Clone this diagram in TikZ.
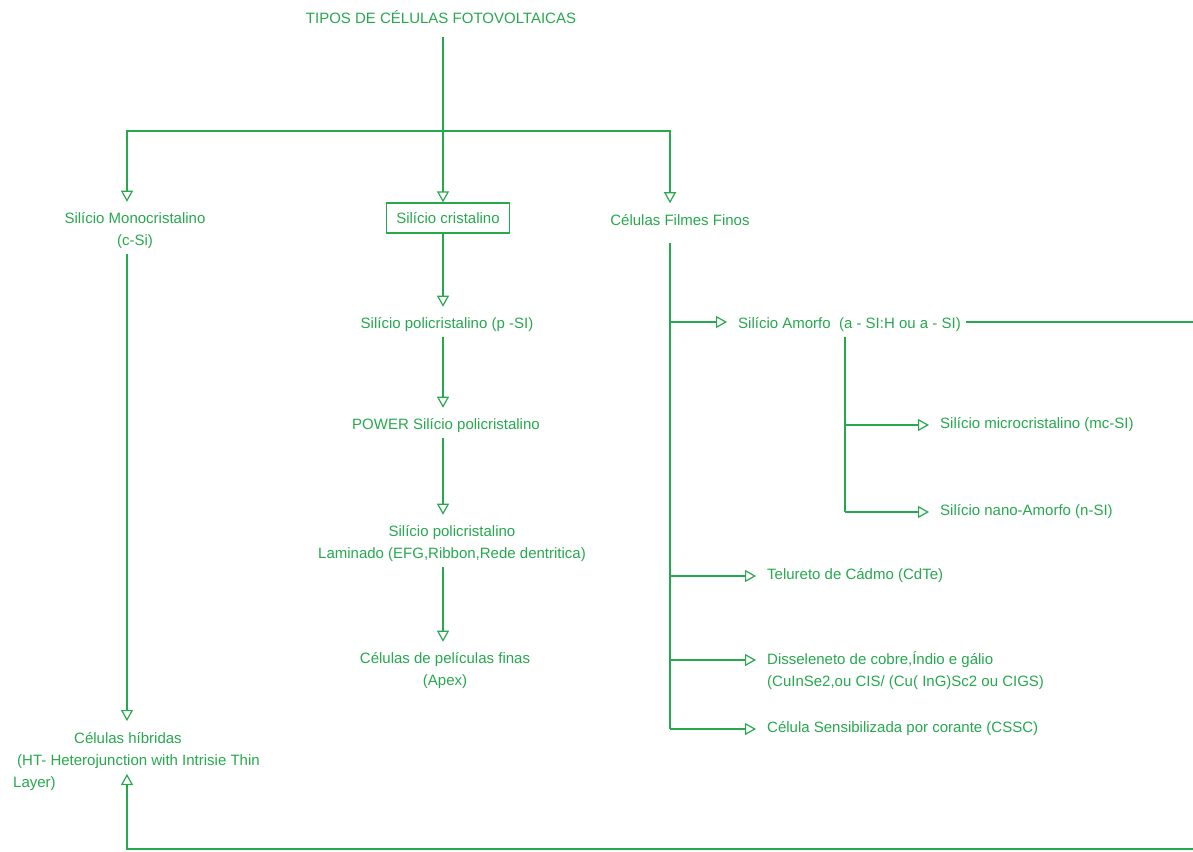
\documentclass[tikz,border=0pt]{standalone}
\usepackage{fontspec}
\setmainfont{Liberation Sans}
\usetikzlibrary{arrows.meta}
\definecolor{verde}{RGB}{38,168,78}

\begin{document}
\begin{tikzpicture}[x=1pt,y=-1pt]
\tikzset{>={Triangle[open,width=12pt,length=11pt]}}
\tikzstyle{rotulo}=[font=\fontsize{15}{22}\selectfont,text=verde,inner sep=5pt]
\tikzstyle{caixa}=[rotulo,draw=verde,line width=1.2pt,inner xsep=10pt,inner ysep=9.5pt]
\tikzstyle{liga}=[verde,line width=1.2pt]
\tikzstyle{seta}=[liga,->,shorten >=6pt]

\useasboundingbox (0,0) rectangle (1193,851);

\node[rotulo](tipos) at (441,17){TIPOS DE CÉLULAS FOTOVOLTAICAS};
\node[rotulo,align=center](mono) at (135,231){Silício Monocristalino\\(c-Si)};
\node[caixa](crist) at (448,218){Silício cristalino};
\node[rotulo](filmes) at (680,220){Células Filmes Finos};

\node[rotulo](poli) at (447,325){Silício policristalino (p -SI)};
\node[rotulo](power) at (446,426){POWER Silício policristalino};
\node[rotulo,align=center](lam) at (452,544){Silício policristalino\\Laminado (EFG,Ribbon,Rede dentritica)};
\node[rotulo,align=center](apex) at (445,671){Células de películas finas\\(Apex)};

\node[rotulo,align=left,anchor=north west](hibr) at (8,727){\hspace*{61pt}Células híbridas\\\hspace*{4pt}(HT- Heterojunction with Intrisie Thin\\Layer)};

\node[rotulo,anchor=west](amorfo) at (733,325){Silício Amorfo\ \ (a - SI:H ou a - SI)};
\node[rotulo,anchor=west](micro) at (935,425){Silício microcristalino (mc-SI)};
\node[rotulo,anchor=west](nano) at (935,512){Silício nano-Amorfo (n-SI)};
\node[rotulo,anchor=west](telur) at (762,576){Telureto de Cádmo (CdTe)};
\node[rotulo,anchor=west,align=left](dissel) at (762,671){Disseleneto de cobre,Índio e gálio\\(CuInSe2,ou CIS/ (Cu( InG)Sc2 ou CIGS)};
\node[rotulo,anchor=west](cssc) at (762,729){Célula Sensibilizada por corante (CSSC)};

% pontos de ligacao
\coordinate (jt) at (443,131);
\coordinate (jm) at (127,131);
\coordinate (jf) at (670,131);
\coordinate (jf2) at (670,243);
\coordinate (ja) at (845,0);
\coordinate (d1) at (762,660);
\coordinate (cR) at (1200,849);
\coordinate (cL) at (127,849);
\coordinate (hup) at (127,774);

% topo
\draw[liga,shorten <=8pt] (jt |- tipos.south) -- (jt);
\draw[liga,->] (jt) -- (jt |- crist.north);
\draw[seta] (jt) -| (jm |- mono.north);
\draw[seta] (jt) -| (jf |- filmes.north);

% silicio cristalino
\draw[seta] (jt |- crist.south) -- (jt |- poli.north);
\draw[seta] (jt |- poli.south) -- (jt |- power.north);
\draw[seta] (jt |- power.south) -- (jt |- lam.north);
\draw[seta] (jt |- lam.south) -- (jt |- apex.north);

% monocristalino
\draw[seta] (jm |- mono.south) -- (jm |- hibr.north);

% filmes finos
\draw[liga] (jf2) -- (jf |- cssc.west);
\draw[seta] (jf |- 0,322) -- (amorfo.west |- 0,322);
\draw[seta] (jf |- telur.west) -- (telur.west);
\draw[seta] (jf |- d1) -- (d1);
\draw[seta] (jf |- cssc.west) -- (cssc.west);

\draw[liga] (ja |- amorfo.south) -- (ja |- nano.west);
\draw[seta] (ja |- micro.west) -- (micro.west);
\draw[seta] (ja |- nano.west) -- (nano.west);

% retorno
\draw[liga,->] (amorfo.east |- 0,322) -| (cR) -- (cL) -- (hup);
\end{tikzpicture}
\end{document}
